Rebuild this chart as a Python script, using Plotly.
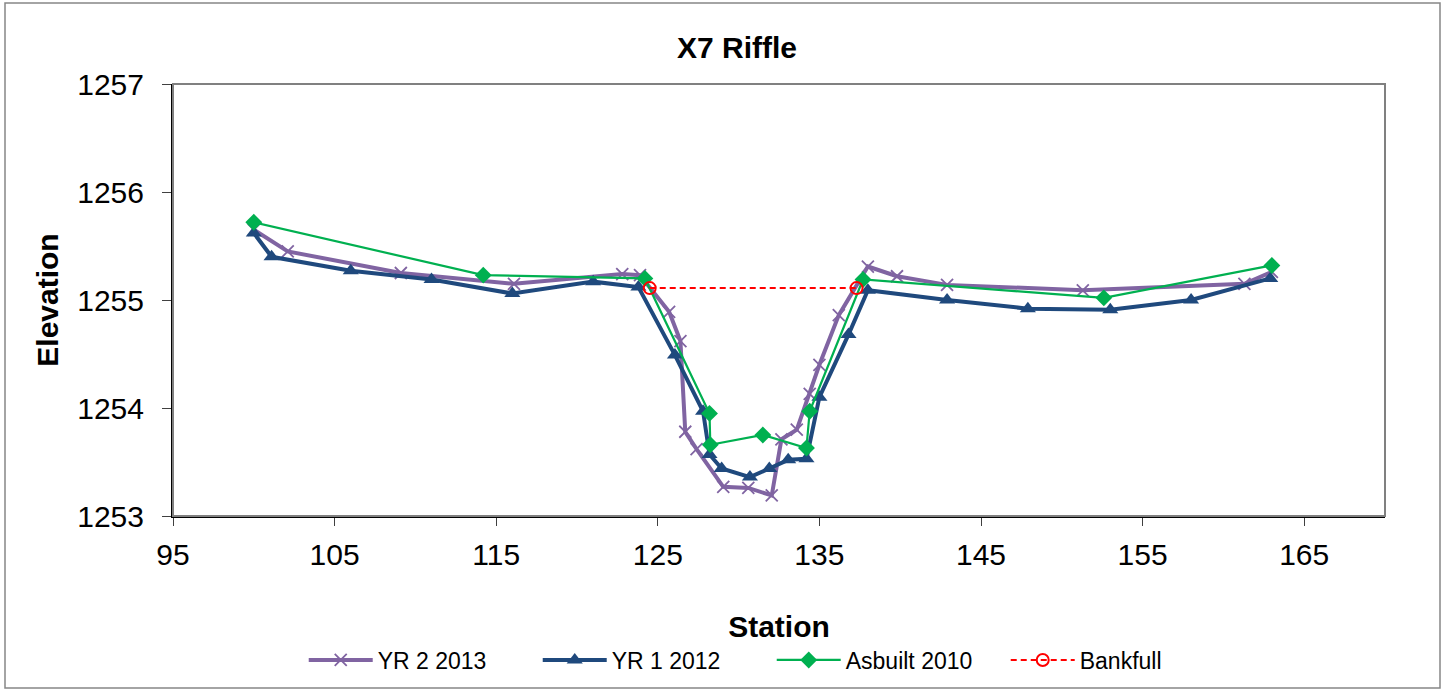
import plotly.graph_objects as go

# ---- data ----
yr2_station = [100.0, 102.1, 109.1, 116.1, 122.8, 123.9, 125.7, 126.4, 126.7, 127.4,
               129.05, 130.6, 132.05, 132.65, 133.6, 134.4, 135.0, 136.2, 138.0,
               139.8, 142.9, 151.3, 161.3, 163.0]
yr2_elev = [1255.65, 1255.45, 1255.25, 1255.15, 1255.24, 1255.23, 1254.89, 1254.62, 1253.78, 1253.62,
            1253.27, 1253.26, 1253.19, 1253.71, 1253.80, 1254.13, 1254.40, 1254.86, 1255.31,
            1255.22, 1255.14, 1255.09, 1255.15, 1255.26]

yr1_station = [100.0, 101.1, 106.0, 111.0, 116.0, 121.0, 123.8, 126.06, 127.8, 128.2,
               128.95, 130.7, 131.9, 133.07, 134.2, 135.0, 136.8, 138.0, 142.9, 147.9,
               153.0, 158.0, 162.9]
yr1_elev = [1255.62, 1255.40, 1255.27, 1255.19, 1255.06, 1255.17, 1255.12, 1254.49, 1253.97, 1253.57,
            1253.44, 1253.36, 1253.44, 1253.52, 1253.53, 1254.10, 1254.68, 1255.09, 1255.00, 1254.92,
            1254.91, 1255.00, 1255.20]

asb_station = [100.0, 114.2, 124.2, 128.2, 128.25, 131.5, 134.2, 134.4, 137.7, 152.6, 163.0]
asb_elev = [1255.72, 1255.23, 1255.20, 1253.95, 1253.66, 1253.75, 1253.63, 1253.97, 1255.19, 1255.02, 1255.32]

bkf_station = [124.5, 137.3]
bkf_elev = [1255.11, 1255.11]

x_ticks = [95, 105, 115, 125, 135, 145, 155, 165]
y_ticks = [1253, 1254, 1255, 1256, 1257]

# ---- figure ----
fig = go.Figure()
fig.add_trace(go.Scatter(
    x=yr2_station, y=yr2_elev, name="YR 2 2013", mode="lines+markers",
    line=dict(color="#8064A2", width=4),
    marker=dict(symbol="x-thin-open", size=12, line=dict(color="#8064A2", width=1.8))))
fig.add_trace(go.Scatter(
    x=yr1_station, y=yr1_elev, name="YR 1 2012", mode="lines+markers",
    line=dict(color="#1F497D", width=4),
    marker=dict(symbol="triangle-up", size=14, color="#1F497D")))
fig.add_trace(go.Scatter(
    x=asb_station, y=asb_elev, name="Asbuilt 2010", mode="lines+markers",
    line=dict(color="#00B050", width=2.2),
    marker=dict(symbol="diamond", size=13, color="#00B050")))
fig.add_trace(go.Scatter(
    x=bkf_station, y=bkf_elev, name="Bankfull", mode="lines+markers",
    line=dict(color="#FF0000", width=2, dash="6px,4px"),
    marker=dict(symbol="circle-open", size=12, color="#FF0000", line=dict(width=2, color="#FF0000"))))

font_family = "Liberation Sans, Arial, sans-serif"

fig.update_layout(
    width=1447, height=692,
    margin=dict(l=173, r=62, t=84, b=176, autoexpand=False),
    paper_bgcolor="white", plot_bgcolor="white",
    font=dict(family=font_family, color="black"),
    showlegend=True,
    legend=dict(orientation="h", x=0.494, xanchor="center", y=(516 - 660) / 432, yanchor="middle",
                font=dict(size=23, family=font_family), itemwidth=64, entrywidth=155,
                bgcolor="rgba(0,0,0,0)"),
    annotations=[
        dict(text="<b>X7 Riffle</b>", x=(737 - 173) / 1212, y=(516 - 47) / 432, xref="paper", yref="paper",
             showarrow=False, font=dict(size=30, family=font_family), xanchor="center", yanchor="middle"),
    ],
    shapes=[
        dict(type="rect", xref="paper", yref="paper", x0=0, x1=1, y0=0, y1=1,
             line=dict(color="#808080", width=2), layer="above"),
        dict(type="rect", xref="paper", yref="paper",
             x0=(5 - 173) / 1212, x1=(1440 - 173) / 1212,
             y0=(516 - 688) / 432, y1=(516 - 3) / 432,
             line=dict(color="#868686", width=1.5)),
    ],
)

fig.update_xaxes(
    range=[95, 170], tickvals=x_ticks, ticktext=[str(v) for v in x_ticks],
    showgrid=False, zeroline=False,
    showline=True, linecolor="black", linewidth=2, mirror=False,
    ticks="outside", ticklen=8, tickcolor="#404040", tickwidth=1,
    tickfont=dict(size=30, family=font_family), ticklabelstandoff=3,
    title=dict(text="<b>Station</b>", font=dict(size=30, family=font_family), standoff=46),
)
fig.update_yaxes(
    range=[1253, 1257], tickvals=y_ticks, ticktext=[str(v) for v in y_ticks],
    showgrid=False, zeroline=False,
    showline=True, linecolor="black", linewidth=2, mirror=False,
    ticks="outside", ticklen=9, tickcolor="#404040", tickwidth=1,
    tickfont=dict(size=30, family=font_family), ticklabelstandoff=12,
    title=dict(text="<b>Elevation</b>", font=dict(size=30, family=font_family), standoff=10),
)

fig.write_html("out.html", config={"displayModeBar": False},
               post_script="document.body.style.margin='0px';")
